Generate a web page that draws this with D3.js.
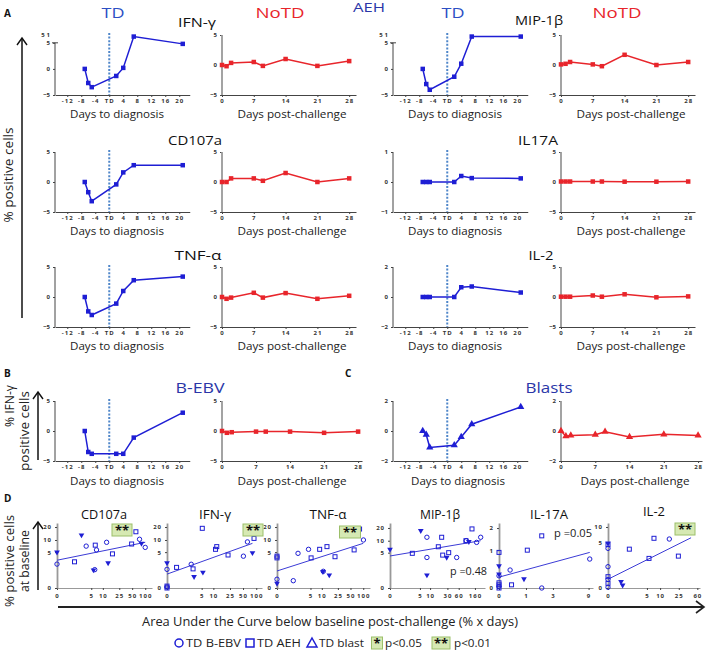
<!DOCTYPE html>
<html><head><meta charset="utf-8">
<script src="https://cdn.jsdelivr.net/npm/d3@7"></script>
<style>body{margin:0;background:#fff}svg{display:block}text{font-family:"Open Sans",sans-serif}</style>
</head><body><svg id="c" width="708" height="654"></svg>
<script>
// ---------------- DATA ----------------
const tdDays = [-7,-6,-5,2,4,7,21];
const notdDays = [0,1,2,7,9,14,21,28];
const tdTicks = [-12,-8,-4,0,4,8,12,16,20];
const tdTickLabels = ["-12","-8","-4","TD","4","8","12","16","20"];
const notdTicks = [0,7,14,21,28];

const ifnTD   = [0,-2.7,-3.5,-1.35,0.2,6.2,4.8];
const ifnNoTD = [0,-0.2,0.35,0.5,-0.15,1.0,-0.15,0.65];
const mipTD   = [0,-2.9,-4.0,-1.5,1.0,6.2,6.2];
const mipNoTD = [0.1,0.2,0.5,0.1,-0.2,1.7,0.0,0.5];
const cdTD    = [0,-1.7,-3.2,-0.4,1.6,2.8,2.8];
const cdNoTD  = [0,0,0.6,0.6,0.2,1.5,0.0,0.6];
const il17TD  = [0,0,0,0,0.2,0.13,0.12];
const il17NoTD= [0.08,0.08,0.08,0.08,0.08,0.05,0.05,0.08];
const tnfTD   = [0,-2.4,-3.0,-1.1,1.0,2.8,3.4];
const tnfNoTD = [0,-0.3,-0.1,0.7,-0.1,0.65,-0.3,0.2];
const il2TD   = [0,0,0,0,0.65,0.7,0.3];
const il2NoTD = [0.05,0.05,0.05,0.25,0.05,0.45,-0.05,0.1];
const bebvTD  = [0,-3.5,-3.8,-3.8,-3.8,-1.1,3.05];
const bebvNoTD= [0,-0.3,-0.2,-0.1,-0.1,-0.1,-0.3,-0.1];
const blastTD = [0,-0.25,-1.1,-0.95,-0.4,0.45,1.6];
const blastNoTD=[0,-0.35,-0.3,-0.25,-0.05,-0.4,-0.22,-0.3];

const ticks5 = [-5,0,5], ticks2 = [-2,0,2], ticks1 = [-1,0,1];
const breakLabel = "51";

// scatter (x = AUC below baseline, y = % positive at baseline)
const cdCirc = [[0,2.3],[3.6,7.1],[6.9,5.7],[6.2,1.5],[12.4,8.8],[74,10.4],[100,6.6]];
const cdSq   = [[1.5,2.7],[6.4,7.5],[17.2,4.5],[48.6,8],[61,15.6]];
const cdTri  = [[0,5],[2.6,13.1],[5.75,1.45],[13.5,2.5],[82,8.3]];
const ifCirc = [[0,1.54],[2.5,2.27],[51,3.9],[63,9.0],[0,0.05]];
const ifSq   = [[0,0.1],[0,0],[0.64,1.8],[2.85,1.6],[5.2,18.7],[11.3,5.9],[12.1,6.9],[22.5,4.2],[89,10.9]];
const ifTri  = [[0,2.5],[3.05,0.76],[5.4,1.19],[82,4.8]];
const tnCirc = [[0,0.55],[1.39,0.44],[2.08,4.65],[4.4,5.9],[10.9,1.3],[101,10]];
const tnSq   = [[0,3.9],[0,3.5],[5.2,3.5],[8.8,5.9],[13.5,6.9],[21.3,3.77],[61,5.7],[82,18]];
const tnTri  = [[0,0.26],[10.7,1.26],[15.4,0.91]];
const mpCirc = [[8.1,12.1],[8.1,3.7],[53,3.7],[95,10],[177,9.1],[226,12.1]];
const mpSq   = [[2.8,4.8],[17,7.1],[21,12.1],[22.4,4.3],[32.5,5.0],[93,10.0],[134,19]];
const mpTri  = [[0,6.1],[5.3,17.3],[8.1,0.93],[28.7,3.7],[111,9.5]];
const i7Circ = [[0,0.25],[0,0.03],[0.33,0.39],[2.0,0],[9.3,0.7]];
const i7Sq   = [[0,0.92],[0,0.1],[0,0.06],[0,0],[0.38,0.06],[1.07,1.0],[2.0,1.6]];
const i7Tri  = [[0,0.5],[0,0.29],[0.9,0.18]];
const i2Circ = [[0,3.75],[0,1.31],[0,0.03],[0,0.4],[15.8,5.85]];
const i2Sq   = [[0,4.5],[0,0.56],[0,0.2],[1.67,3.6],[5.6,2.2],[7.3,6.05],[24.5,2.5]];
const i2Tri  = [[0,4.8],[0.82,0.28],[0.96,0.12]];
const regCd = [[0,3.0],[100,8.8]];
const regIf = [[0,1.0],[82,8.3]];
const regTn = [[0,1.34],[100,8.3]];
const regMp = [[0,4.07],[226,10.0]];
const regI7 = [[0,0.22],[9.3,0.92]];
const regI2 = [[0,0.41],[44.7,6.2]];
const scXTicksA = [0,5,10,25,50,100];
const scXTicksMip = [0,5,10,30,60,160];
const scXTicksI7 = [0,1,3,9];
const scXTicksI2 = [0,5,10,25,60];
const scYTicksA = [0,5,10,20];
const scYTicksI7 = [0,1,2];
const scYTicksI2 = [0,5,10];

// ---------------- DRAW ----------------
const svg = d3.select("#c");
const BLUE="#1e1ed4", RED="#e8252b", DOT="#4f86c9", TBLUE="#2d4fc4", DBLUE="#2a36a8";

function txt(x,y,s,size,len,o={}){
  const t = svg.append("text").attr("x",x).attr("y",y).text(s)
    .attr("font-size",size).attr("text-anchor",o.anchor||"middle")
    .attr("fill",o.fill||"#111");
  if(len){t.attr("textLength",len).attr("lengthAdjust","spacingAndGlyphs");}
  if(o.weight) t.attr("font-weight",o.weight);
  if(o.rot) t.attr("transform",`rotate(-90,${x},${y})`);
  return t;
}
function styleAxis(g, col){
  g.attr("font-family",null).attr("font-size",null);
  g.selectAll("text").attr("font-size",6).attr("font-weight","bold").attr("fill","#333").attr("letter-spacing","1px");
  g.selectAll("line").attr("stroke","#444");
  g.select(".domain").attr("stroke",col||"#444");
}
function marker(g,shape,color,cx,cy,s){
  if(shape==="sq") g.append("rect").attr("x",cx-s/2).attr("y",cy-s/2).attr("width",s).attr("height",s).attr("fill",color);
  else g.append("path").attr("d",d3.symbol(d3.symbolTriangle,s*s*0.9)()).attr("transform",`translate(${cx},${cy})`).attr("fill",color);
}
function timePanel(o){
  const x = d3.scaleLinear().domain(o.xd).range([o.x0,o.x0+o.w]);
  const y = d3.scaleLinear().domain(o.yd).range([o.bot,o.bot-60]);
  const g = svg.append("g");
  const xa = g.append("g").attr("transform",`translate(0,${o.bot})`)
    .call(d3.axisBottom(x).tickValues(o.xt).tickFormat((d,i)=>o.xl[i]).tickSize(2).tickSizeOuter(0).tickPadding(2));
  styleAxis(xa);
  const ya = g.append("g").attr("transform",`translate(${o.x0},0)`)
    .call(d3.axisLeft(y).tickValues(o.yt).tickFormat(d3.format("d")).tickSize(2).tickSizeOuter(0).tickPadding(3));
  styleAxis(ya);
  ya.selectAll("text").attr("letter-spacing",null);
  ya.select(".domain").remove();
  const topV = o.brk ? 5 : o.yd[1];
  g.append("line").attr("x1",o.x0).attr("x2",o.x0).attr("y1",y(o.yd[0])).attr("y2",y(topV))
    .attr("stroke",o.td?"#444":"#999").attr("stroke-width",o.td?1:1.8);
  if(o.brk){
    g.append("line").attr("x1",o.x0-3).attr("x2",o.x0+3).attr("y1",y(5)).attr("y2",y(5)).attr("stroke","#444");
    g.append("text").attr("x",o.x0-3).attr("y",y(o.yd[1])+2).attr("text-anchor","end")
      .attr("font-size",6).attr("font-weight","bold").attr("fill","#333").attr("letter-spacing","2px").text(breakLabel);
  }
  if(o.td){
    g.append("line").attr("x1",x(0)).attr("x2",x(0)).attr("y1",o.bot-62).attr("y2",o.bot)
      .attr("stroke",DOT).attr("stroke-width",2).attr("stroke-dasharray","2,1.6");
  }
  const pts = o.days.map((d,i)=>[x(d),y(o.vals[i])]);
  g.append("path").attr("d",d3.line()(pts)).attr("fill","none").attr("stroke",o.color).attr("stroke-width",1.5);
  pts.forEach(p=>marker(g,o.shape,o.color,p[0],p[1],o.shape==="sq"?4.5:5));
}
const TDX = [55,393], NTX = [222,561];
function rowPair(col,bot,tdVals,ntVals,tdY,tdT,brk){
  timePanel({x0:TDX[col],w:134.75,xd:[-15.5,23],xt:tdTicks,xl:tdTickLabels,bot,yd:tdY,yt:tdT,brk,td:true,days:tdDays,vals:tdVals,color:BLUE,shape:"sq"});
  timePanel({x0:NTX[col],w:134,xd:[0,29.5],xt:notdTicks,xl:notdTicks.map(String),bot,yd:[-5,5],yt:ticks5,td:false,days:notdDays,vals:ntVals,color:RED,shape:"sq"});
  txt(TDX[col]+62,bot+23,"Days to diagnosis",11.5,94,{fill:"#222"});
  txt(NTX[col]+70,bot+23,"Days post-challenge",11.5,109,{fill:"#222"});
}
rowPair(0,95,ifnTD,ifnNoTD,[-5,6.5],ticks5,true);
rowPair(1,95,mipTD,mipNoTD,[-5,6.5],ticks5,true);
rowPair(0,212,cdTD,cdNoTD,[-5,5],ticks5,false);
rowPair(1,212,il17TD,il17NoTD,[-1,1],ticks1,false);
rowPair(0,327,tnfTD,tnfNoTD,[-5,5],ticks5,false);
rowPair(1,327,il2TD,il2NoTD,[-2,2],ticks2,false);

// B & C
timePanel({x0:55,w:134.75,xd:[-15.5,23],xt:tdTicks,xl:tdTickLabels,bot:461,yd:[-5,5],yt:ticks5,td:true,days:tdDays,vals:bebvTD,color:BLUE,shape:"sq"});
timePanel({x0:222,w:140,xd:[0,28.8],xt:notdTicks,xl:notdTicks.map(String),bot:461,yd:[-5,5],yt:ticks5,td:false,days:notdDays,vals:bebvNoTD,color:RED,shape:"sq"});
timePanel({x0:393,w:134.75,xd:[-15.5,23],xt:tdTicks,xl:tdTickLabels,bot:461,yd:[-2,2],yt:ticks2,td:true,days:tdDays,vals:blastTD,color:BLUE,shape:"tri"});
timePanel({x0:561,w:141,xd:[0,28.8],xt:notdTicks,xl:notdTicks.map(String),bot:461,yd:[-2,2],yt:ticks2,td:false,days:notdDays,vals:blastNoTD,color:RED,shape:"tri"});
txt(117,485,"Days to diagnosis",11.5,94,{fill:"#222"});
txt(292,485,"Days post-challenge",11.5,109,{fill:"#222"});
txt(458,485,"Days to diagnosis",11.5,94,{fill:"#222"});
txt(635,485,"Days post-challenge",11.5,109,{fill:"#222"});

// headings
txt(113,18,"TD",15,23,{fill:TBLUE});
txt(280,18,"NoTD",15,49,{fill:RED});
txt(369,12,"AEH",12,32,{fill:DBLUE});
txt(453,18,"TD",15,23,{fill:TBLUE});
txt(617,18,"NoTD",15,49,{fill:RED});
txt(197,27,"IFN-γ",12.5,38);
txt(539,25,"MIP-1β",12.5,48);
txt(195,145,"CD107a",12.5,54);
txt(538,145,"IL17A",12.5,40);
txt(198,260,"TNF-α",12.5,47);
txt(541,260,"IL-2",12.5,25);
txt(200,393,"B-EBV",14,49,{fill:DBLUE});
txt(549,393,"Blasts",14,47,{fill:DBLUE});
txt(4,17,"A",10,null,{anchor:"start",weight:"bold"});
txt(4,377,"B",10,null,{anchor:"start",weight:"bold"});
txt(345,377,"C",10,null,{anchor:"start",weight:"bold"});
txt(4,502,"D",10,null,{anchor:"start",weight:"bold"});

// arrows & y titles
function chevronUp(x,y){svg.append("path").attr("d",`M${x-5},${y+7}L${x},${y}L${x+5},${y+7}`).attr("fill","none").attr("stroke","#111").attr("stroke-width",1.4);}
svg.append("line").attr("x1",22).attr("x2",22).attr("y1",38).attr("y2",318).attr("stroke","#111").attr("stroke-width",1.5);
chevronUp(22,38);
txt(13,175,"% positive cells",12,95,{rot:true,fill:"#222"});
svg.append("line").attr("x1",38).attr("x2",38).attr("y1",392).attr("y2",460).attr("stroke","#111").attr("stroke-width",1.5);
chevronUp(38,392);
txt(14,406,"% IFN-γ",12,42,{rot:true,fill:"#222"});
txt(29,431,"positive cells",12,80,{rot:true,fill:"#222"});
svg.append("line").attr("x1",38).attr("x2",38).attr("y1",522).attr("y2",590).attr("stroke","#111").attr("stroke-width",1.5);
chevronUp(38,522);
txt(14,561,"% positive cells",12,92,{rot:true,fill:"#222"});
txt(29,561,"at baseline",12,62,{rot:true,fill:"#222"});
svg.append("line").attr("x1",58).attr("x2",704).attr("y1",607).attr("y2",607).attr("stroke","#222").attr("stroke-width",1.8);
svg.append("path").attr("d","M696,601L704,607L696,613").attr("fill","none").attr("stroke","#222").attr("stroke-width",1.6);
txt(330,626,"Area Under the Curve below baseline post-challenge (% x days)",12,376,{fill:"#222"});

// scatter panels
function sigBox(cx,cy,w,label){
  svg.append("rect").attr("x",cx-w/2).attr("y",cy-6).attr("width",w).attr("height",12).attr("fill","#d6e9b3").attr("stroke","#9cbf6a").attr("stroke-width",1);
  txt(cx,cy+5,label,13,null,{weight:"bold"});
}
function scatter(o){
  const x = d3.scaleSymlog().constant(1).domain([0,o.xMax]).range([o.x0,o.x1]);
  const y = d3.scaleSymlog().constant(1).domain([0,o.yMax]).range([588,523]);
  const g = svg.append("g");
  const xa = g.append("g").attr("transform","translate(0,588)")
    .call(d3.axisBottom(x).tickValues(o.xt).tickFormat(d3.format("d")).tickSize(2).tickSizeOuter(0).tickPadding(4));
  styleAxis(xa,"#999");
  const ya = g.append("g").attr("transform",`translate(${o.x0},0)`)
    .call(d3.axisLeft(y).tickValues(o.yt).tickFormat(d3.format("d")).tickSize(2).tickSizeOuter(0).tickPadding(3));
  styleAxis(ya,"#999");
  ya.select(".domain").attr("stroke-width",1.8);
  g.append("line").attr("x1",x(o.reg[0][0])).attr("y1",y(o.reg[0][1])).attr("x2",x(o.reg[1][0])).attr("y2",y(o.reg[1][1]))
    .attr("stroke","#3b3bd6").attr("stroke-width",1);
  o.circ.forEach(p=>g.append("circle").attr("cx",x(p[0])).attr("cy",y(p[1])).attr("r",2.2).attr("fill","none").attr("stroke",BLUE).attr("stroke-width",1));
  o.sq.forEach(p=>g.append("rect").attr("x",x(p[0])-2).attr("y",y(p[1])-2).attr("width",4).attr("height",4).attr("fill","none").attr("stroke",BLUE).attr("stroke-width",1));
  o.tri.forEach(p=>g.append("path").attr("d",d3.symbol(d3.symbolTriangle,14)()).attr("transform",`translate(${x(p[0])},${y(p[1])}) rotate(180)`).attr("fill",BLUE));
  txt(o.tx,o.ty||519,o.title,12,o.tw);
}
scatter({x0:57,x1:152,xMax:143,yMax:24.7,xt:scXTicksA,yt:scYTicksA,circ:cdCirc,sq:cdSq,tri:cdTri,reg:regCd,title:"CD107a",tx:104,tw:46});
scatter({x0:167,x1:262,xMax:135,yMax:24.7,xt:scXTicksA,yt:scYTicksA,circ:ifCirc,sq:ifSq,tri:ifTri,reg:regIf,title:"IFN-γ",tx:215,tw:32});
scatter({x0:277,x1:370,xMax:144,yMax:24.7,xt:scXTicksA,yt:scYTicksA,circ:tnCirc,sq:tnSq,tri:tnTri,reg:regTn,title:"TNF-α",tx:328,tw:37});
scatter({x0:390,x1:485,xMax:293,yMax:26,xt:scXTicksMip,yt:scYTicksA,circ:mpCirc,sq:mpSq,tri:mpTri,reg:regMp,title:"MIP-1β",tx:440,tw:40});
scatter({x0:499,x1:593,xMax:10.2,yMax:2.29,xt:scXTicksI7,yt:scYTicksI7,circ:i7Circ,sq:i7Sq,tri:i7Tri,reg:regI7,title:"IL-17A",tx:549,tw:38});
scatter({x0:608,x1:700,xMax:68,yMax:11.86,xt:scXTicksI2,yt:scYTicksI2,circ:i2Circ,sq:i2Sq,tri:i2Tri,reg:regI2,title:"IL-2",tx:654,tw:22,ty:516});
sigBox(122,530,20,"**");
sigBox(253,530,20,"**");
sigBox(350,532,21,"**");
sigBox(685,529,20,"**");
txt(450,575,"p =0.48",11,37,{anchor:"start",fill:"#222"});
txt(554,537,"p =0.05",11,38,{anchor:"start",fill:"#222"});

// legend
svg.append("circle").attr("cx",179).attr("cy",643).attr("r",4).attr("fill","none").attr("stroke",BLUE).attr("stroke-width",1.5);
txt(186,647,"TD B-EBV",11.5,55,{anchor:"start",fill:"#222"});
svg.append("rect").attr("x",246).attr("y",639).attr("width",8).attr("height",8).attr("fill","none").attr("stroke",BLUE).attr("stroke-width",1.5);
txt(257,647,"TD AEH",11.5,44,{anchor:"start",fill:"#222"});
svg.append("path").attr("d","M312,638L317,647L307,647Z").attr("fill","none").attr("stroke",BLUE).attr("stroke-width",1.5);
txt(319,647,"TD blast",11.5,45,{anchor:"start",fill:"#222"});
sigBox(377,643,11,"*");
txt(385,647,"p<0.05",11.5,37,{anchor:"start",fill:"#222"});
sigBox(441,643,18,"**");
txt(454,647,"p<0.01",11.5,37,{anchor:"start",fill:"#222"});
</script></body></html>
